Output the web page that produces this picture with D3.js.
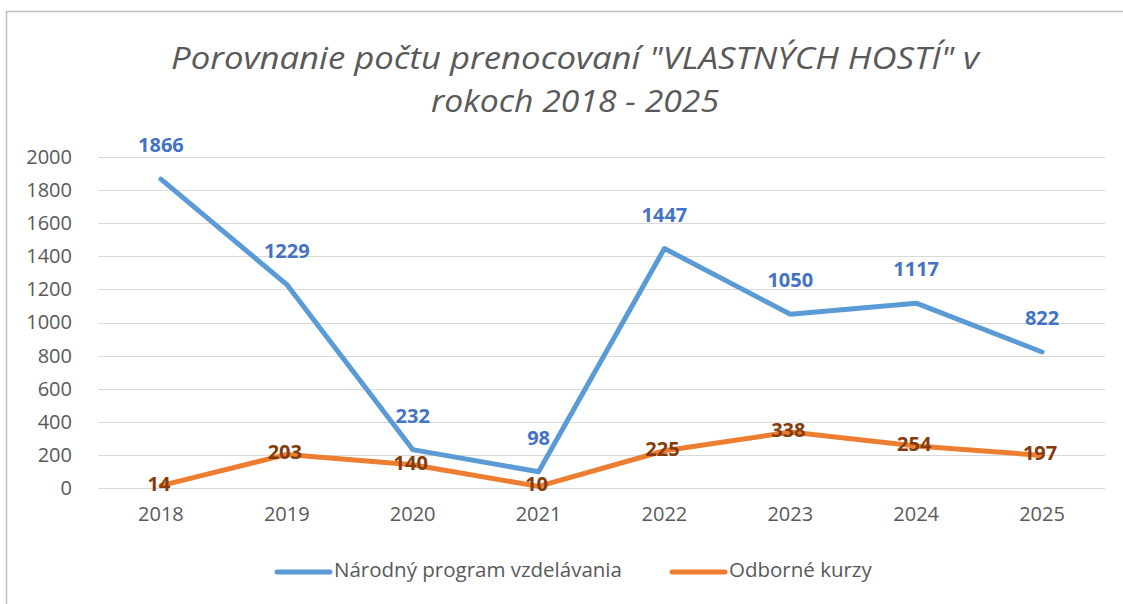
<!DOCTYPE html>
<html>
<head>
<meta charset="utf-8">
<script src="https://cdn.jsdelivr.net/npm/d3@7"></script>
<style>
    body { margin: 0; background: #fff; }
    text { font-family: "Open Sans", sans-serif; }
</style>
</head>
<body>
<div id="chart"></div>
<script>
// chart data
var years = ["2018", "2019", "2020", "2021", "2022", "2023", "2024", "2025"];
var narodny = [1866, 1229, 232, 98, 1447, 1050, 1117, 822];
var odborne = [14, 203, 140, 10, 225, 338, 254, 197];
var yTicks = [0, 200, 400, 600, 800, 1000, 1200, 1400, 1600, 1800, 2000];
var seriesNames = ["Národný program vzdelávania", "Odborné kurzy"];
var titleLines = ["Porovnanie počtu prenocovaní \"VLASTNÝCH HOSTÍ\" v", "rokoch 2018 - 2025"];

var width = 1123, height = 604;
// title line widths, to follow the narrow title font of the original
var titleWidths = [808, 288];

var svg = d3.select("#chart").append("svg")
    .attr("width", width)
    .attr("height", height);

// frame of the chart area (top and left edges visible)
svg.append("line").attr("x1", 6).attr("x2", width).attr("y1", 11.5).attr("y2", 11.5)
    .style("stroke", "#bfbfbf").style("stroke-width", 1.5);
svg.append("line").attr("x1", 6.5).attr("x2", 6.5).attr("y1", 11).attr("y2", height)
    .style("stroke", "#bfbfbf").style("stroke-width", 1.5);

// title
svg.append("g").selectAll("text")
    .data(titleLines)
    .enter()
    .append("text")
    .attr("x", 575)
    .attr("y", function(d, i) { return 69 + i * 43; })
    .attr("textLength", function(d, i) { return titleWidths[i]; })
    .attr("lengthAdjust", "spacingAndGlyphs")
    .style("text-anchor", "middle")
    .style("font-style", "italic")
    .style("font-size", "31px")
    .style("fill", "#595959")
    .text(function(d) { return d; });

var x = d3.scaleBand().domain(years).range([98, 1105]);
var y = d3.scaleLinear().domain([0, 2000]).range([488, 157]);

// gridlines
svg.append("g").selectAll("line")
    .data(yTicks)
    .enter()
    .append("line")
    .attr("x1", 98)
    .attr("x2", 1105)
    .attr("y1", function(d) { return Math.round(y(d)) + 0.5; })
    .attr("y2", function(d) { return Math.round(y(d)) + 0.5; })
    .style("stroke", "#d9d9d9")
    .style("stroke-width", 1.2);

// y axis
var yAxis = svg.append("g")
    .attr("transform", "translate(78,0)")
    .call(d3.axisLeft(y).tickValues(yTicks).tickFormat(d3.format("d")).tickSize(0).tickPadding(6));
yAxis.select(".domain").remove();
yAxis.selectAll("text")
    .style("font-size", "20px")
    .style("fill", "#595959")
    .style("font-family", "'Open Sans', sans-serif");

// x axis
var xAxis = svg.append("g")
    .attr("transform", "translate(0,500)")
    .call(d3.axisBottom(x).tickSize(0).tickPadding(7));
xAxis.select(".domain").remove();
xAxis.selectAll("text")
    .style("font-size", "20px")
    .style("fill", "#595959")
    .style("font-family", "'Open Sans', sans-serif");

var cx = function(d, i) { return x(years[i]) + x.bandwidth() / 2; };

var line = d3.line()
    .x(cx)
    .y(function(d) { return y(d); });

svg.append("path")
    .datum(narodny)
    .attr("d", line)
    .style("fill", "none")
    .style("stroke", "#5b9bd5")
    .style("stroke-width", 5)
    .style("stroke-linejoin", "round")
    .style("stroke-linecap", "round");

svg.append("path")
    .datum(odborne)
    .attr("d", line)
    .style("fill", "none")
    .style("stroke", "#ed7d31")
    .style("stroke-width", 5)
    .style("stroke-linejoin", "round")
    .style("stroke-linecap", "round");

// data labels
svg.append("g").selectAll("text")
    .data(narodny)
    .enter()
    .append("text")
    .attr("x", cx)
    .attr("y", function(d) { return y(d) - 27; })
    .style("text-anchor", "middle")
    .style("font-size", "20px")
    .style("font-weight", "bold")
    .style("fill", "#4472c4")
    .text(function(d) { return d; });

svg.append("g").selectAll("text")
    .data(odborne)
    .enter()
    .append("text")
    .attr("x", function(d, i) { return cx(d, i) - 2; })
    .attr("y", function(d) { return y(d) + 5; })
    .style("text-anchor", "middle")
    .style("font-size", "20px")
    .style("font-weight", "bold")
    .style("fill", "#843c0c")
    .text(function(d) { return d; });

// legend
var legendX = [275, 670];
var legendColors = ["#5b9bd5", "#ed7d31"];
var legend = svg.append("g").selectAll("g")
    .data(seriesNames)
    .enter()
    .append("g")
    .attr("transform", function(d, i) { return "translate(" + legendX[i] + ",572)"; });

legend.append("line")
    .attr("x1", 2)
    .attr("x2", 55)
    .style("stroke", function(d, i) { return legendColors[i]; })
    .style("stroke-width", 5)
    .style("stroke-linecap", "round");

legend.append("text")
    .attr("x", 59)
    .attr("y", 5)
    .style("font-size", "20.5px")
    .style("fill", "#595959")
    .text(function(d) { return d; });
</script>
</body>
</html>
